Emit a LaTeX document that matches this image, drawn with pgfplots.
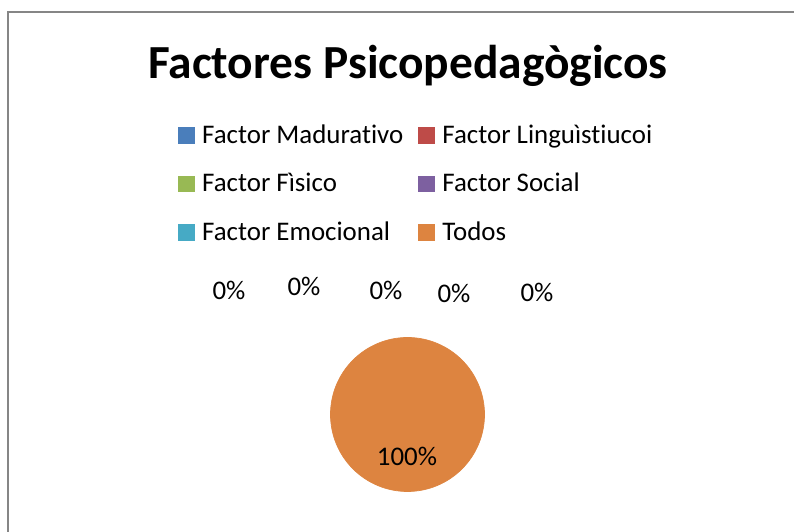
\documentclass[border=0pt]{standalone}
\usepackage{pgfplots}
\pgfplotsset{compat=1.18}
\usepackage{fontspec}
\setmainfont{Carlito}[Ligatures=NoCommon]

\definecolor{cMad}{HTML}{4A7EBB}
\definecolor{cLin}{HTML}{BE4B48}
\definecolor{cFis}{HTML}{98B954}
\definecolor{cSoc}{HTML}{7D60A0}
\definecolor{cEmo}{HTML}{46AAC5}
\definecolor{cTod}{HTML}{DD8440}
\definecolor{frame}{HTML}{868686}

\begin{document}
\begin{tikzpicture}
\begin{axis}[
  scale only axis,
  width=15.88cm, height=10.64cm,
  xmin=0, xmax=794, ymin=0, ymax=532,
  y dir=reverse,
  hide axis,
  clip=false,
  legend columns=2,
  legend cell align=left,
  legend image code/.code={\fill[#1] (0cm,-0.155cm) rectangle (0.31cm,0.155cm);},
  legend style={
    draw=none, fill=none, inner sep=0pt, outer sep=0pt,
    font=\fontsize{15.3}{18}\selectfont,
    at={(axis cs:178,111)}, anchor=north west,
    nodes={inner sep=0pt, minimum height=0.97cm},
    /tikz/every odd column/.append style={column sep=0.16cm},
    /tikz/every even column/.append style={column sep=0.3cm},
  },
]
% legend keys
\addlegendimage{cMad}\addlegendentry{Factor Madurativo}
\addlegendimage{cLin}\addlegendentry{Factor Linguìstiucoi}
\addlegendimage{cFis}\addlegendentry{Factor Fìsico}
\addlegendimage{cSoc}\addlegendentry{Factor Social}
\addlegendimage{cEmo}\addlegendentry{Factor Emocional}
\addlegendimage{cTod}\addlegendentry{Todos}

% pie: only "Todos" is non-zero (100%), so its slice is the full disc
\addplot[only marks, mark=*, mark size=1.54cm, color=cTod, forget plot]
  coordinates {(407.5,414.5)};

% data labels
\addplot[only marks, mark=none, forget plot,
  nodes near coords, point meta=explicit symbolic,
  nodes near coords align=center,
  every node near coord/.append style={font=\fontsize{15.3}{18}\selectfont, anchor=center, inner sep=0pt}]
  coordinates {
    (229,290) [0\%]
    (304,286) [0\%]
    (386,290) [0\%]
    (454,293) [0\%]
    (537,292) [0\%]
    (407,456) [100\%]
  };

\node[font=\bfseries\fontsize{27}{31}\selectfont, anchor=center] at (axis cs:408,66) {Factores Psicopedagògicos};

\draw[frame, line width=1.2pt] (axis cs:8,532) -- (axis cs:8,12) -- (axis cs:794,12);
\end{axis}
\pgfresetboundingbox
\path[use as bounding box] (current axis.south west) rectangle (current axis.north east);
\end{tikzpicture}
\end{document}
